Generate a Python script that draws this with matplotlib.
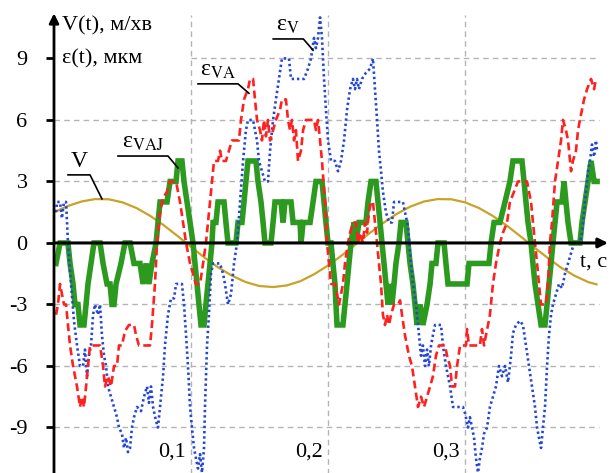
import numpy as np
import matplotlib
matplotlib.use("Agg")
import matplotlib.pyplot as plt

plt.rcParams['font.family'] = ['Liberation Serif', 'DejaVu Serif']
plt.rcParams['mathtext.fontset'] = 'stix'

# speed V(t), m/min
v_t = [0.00, 0.01, 0.02, 0.03, 0.04, 0.05, 0.06, 0.07, 0.08, 0.09, 0.10,
       0.11, 0.12, 0.13, 0.14, 0.15, 0.16, 0.17, 0.18, 0.19, 0.20, 0.21,
       0.22, 0.23, 0.24, 0.25, 0.26, 0.27, 0.28, 0.29, 0.30, 0.31, 0.32,
       0.33, 0.34, 0.35, 0.36, 0.37, 0.38, 0.39, 0.396]
v_val = [1.50, 1.80, 2.02, 2.14, 2.13, 1.98, 1.71, 1.33, 0.87, 0.35, -0.19,
         -0.72, -1.20, -1.60, -1.91, -2.10, -2.15, -2.07, -1.86, -1.52, -1.10, -0.61,
         -0.08, 0.46, 0.96, 1.41, 1.77, 2.02, 2.14, 2.13, 1.98, 1.71, 1.33,
         0.87, 0.35, -0.19, -0.71, -1.20, -1.60, -1.91, -2.02]

# error eps_VAJ(t), um
eps_vaj = [
    (0.0015, -1), (0.0044, 0), (0.0102, 0), (0.0117, -1), (0.0139, -2), (0.0153, -3),
    (0.0175, -3), (0.0190, -4), (0.0219, -4), (0.0234, -3), (0.0248, -2), (0.0270, -1),
    (0.0292, 0), (0.0336, 0), (0.0358, -1), (0.0387, -2), (0.0409, -2), (0.0423, -3),
    (0.0438, -3), (0.0453, -2), (0.0489, -1), (0.0518, 0), (0.0555, 0), (0.0584, -1),
    (0.0628, -1), (0.0650, -2), (0.0672, -1), (0.0693, -2), (0.0715, -1), (0.0745, 0),
    (0.0759, 1), (0.0774, 2), (0.0825, 2), (0.0847, 3), (0.0891, 3), (0.0905, 4),
    (0.0934, 4), (0.0949, 3), (0.0971, 2), (0.0993, 1), (0.1015, 0), (0.1029, -1),
    (0.1044, -2), (0.1058, -3), (0.1073, -4), (0.1095, -4), (0.1109, -3), (0.1124, -2),
    (0.1139, -1), (0.1153, 0), (0.1161, 1), (0.1182, 1), (0.1197, 2), (0.1241, 2),
    (0.1255, 1), (0.1270, 0), (0.1328, 0), (0.1343, 1), (0.1372, 1), (0.1387, 2),
    (0.1401, 3), (0.1416, 4), (0.1474, 4), (0.1489, 3), (0.1511, 2), (0.1526, 1),
    (0.1540, 0), (0.1584, 0), (0.1599, 1), (0.1613, 2), (0.1657, 2), (0.1672, 1),
    (0.1686, 2), (0.1730, 2), (0.1745, 1), (0.1796, 1), (0.1803, 0), (0.1818, 1),
    (0.1869, 1), (0.1891, 2), (0.1912, 3), (0.1956, 3), (0.1971, 2), (0.1985, 1),
    (0.2000, 0), (0.2022, 0), (0.2036, -1), (0.2051, -2), (0.2058, -3), (0.2066, -4),
    (0.2109, -4), (0.2124, -3), (0.2139, -2), (0.2153, -1), (0.2168, 0), (0.2190, 1),
    (0.2204, 0), (0.2226, 1), (0.2277, 1), (0.2292, 2), (0.2314, 3), (0.2350, 3),
    (0.2365, 2), (0.2380, 1), (0.2394, 0), (0.2409, -1), (0.2423, -2), (0.2438, -3),
    (0.2453, -2), (0.2467, -3), (0.2482, -2), (0.2496, -1), (0.2518, 0), (0.2533, 1),
    (0.2569, 1), (0.2584, 0), (0.2599, -1), (0.2620, -2), (0.2635, -3), (0.2650, -4),
    (0.2672, -3), (0.2693, -4), (0.2723, -3), (0.2745, -2), (0.2759, -1), (0.2788, -1),
    (0.2803, 0), (0.2847, 0), (0.2861, -1), (0.2876, -2), (0.3015, -2), (0.3029, -1),
    (0.3175, -1), (0.3190, 0), (0.3212, 1), (0.3255, 1), (0.3292, 2), (0.3328, 3),
    (0.3350, 4), (0.3416, 4), (0.3431, 3), (0.3445, 2), (0.3460, 1), (0.3482, 0),
    (0.3496, -1), (0.3511, -2), (0.3533, -3), (0.3555, -4), (0.3584, -4), (0.3599, -3),
    (0.3613, -2), (0.3628, -1), (0.3642, 0), (0.3657, 1), (0.3672, 2), (0.3708, 2),
    (0.3723, 3), (0.3737, 2), (0.3752, 1), (0.3774, 0), (0.3839, 0), (0.3854, 1),
    (0.3876, 2), (0.3898, 3), (0.3920, 4), (0.3942, 3), (0.3964, 3),
]

# error eps_VA(t), um
eps_va = [
    (0.0015, -3.5), (0.0029, -3), (0.0044, -2), (0.0058, -2.5), (0.0073, -3), (0.0088, -3),
    (0.0102, -4), (0.0117, -5), (0.0139, -6), (0.0168, -7), (0.0190, -8), (0.0204, -7.5),
    (0.0219, -8), (0.0234, -7), (0.0248, -6), (0.0263, -5), (0.0336, -5), (0.0358, -6),
    (0.0372, -7), (0.0394, -6.5), (0.0416, -7), (0.0438, -6), (0.0460, -6), (0.0474, -5),
    (0.0496, -5), (0.0518, -4.3), (0.0547, -4), (0.0584, -4), (0.0599, -4.5), (0.0620, -5),
    (0.0701, -5), (0.0715, -4), (0.0737, -2), (0.0752, 0), (0.0774, 1.5), (0.0796, 2.2),
    (0.0825, 2.5), (0.0847, 3), (0.0891, 3), (0.0905, 2.5), (0.0920, 2), (0.0942, 1),
    (0.0964, 0), (0.0993, -1), (0.1036, -2), (0.1066, -2), (0.1088, -1), (0.1109, 0),
    (0.1124, 1), (0.1153, 3), (0.1168, 4), (0.1197, 4), (0.1212, 4.5), (0.1226, 4),
    (0.1255, 4), (0.1277, 4.5), (0.1299, 5), (0.1350, 5), (0.1365, 6), (0.1387, 7),
    (0.1416, 7.5), (0.1431, 8), (0.1453, 8), (0.1467, 7), (0.1482, 6), (0.1504, 5.5),
    (0.1518, 5), (0.1533, 6), (0.1547, 5.2), (0.1562, 6), (0.1577, 5), (0.1599, 5.5),
    (0.1620, 6), (0.1650, 6.5), (0.1664, 7), (0.1693, 7), (0.1708, 6), (0.1723, 5.5),
    (0.1737, 6), (0.1752, 5), (0.1766, 5.5), (0.1781, 4), (0.1803, 4.5), (0.1818, 5.5),
    (0.1839, 6), (0.1898, 6), (0.1912, 5.5), (0.1927, 6), (0.1942, 5), (0.1956, 4),
    (0.1978, 2), (0.1993, 0), (0.2007, -1), (0.2022, -2), (0.2051, -2), (0.2066, -2.5),
    (0.2080, -3), (0.2095, -2.5), (0.2109, -2), (0.2124, -1), (0.2146, 0), (0.2161, 0.5),
    (0.2182, 1), (0.2204, 1), (0.2219, 0), (0.2234, 0.5), (0.2255, 0), (0.2270, 1),
    (0.2285, 0.5), (0.2299, 1.5), (0.2314, 2), (0.2328, 2), (0.2343, 1), (0.2358, 0),
    (0.2372, -1), (0.2387, -2), (0.2401, -3.5), (0.2416, -4), (0.2431, -3.5), (0.2445, -4),
    (0.2460, -3.5), (0.2482, -3), (0.2511, -3), (0.2526, -2.8), (0.2540, -3.5), (0.2562, -4.5),
    (0.2591, -5.5), (0.2613, -6), (0.2635, -7), (0.2657, -8), (0.2679, -7.5), (0.2701, -8),
    (0.2723, -7.5), (0.2745, -7), (0.2766, -6.5), (0.2788, -5.5), (0.2810, -5), (0.2854, -5),
    (0.2869, -5.5), (0.2891, -6), (0.2905, -7), (0.2927, -7), (0.2942, -6), (0.2964, -5),
    (0.3007, -5), (0.3015, -4.2), (0.3029, -5), (0.3109, -5), (0.3124, -4.2), (0.3139, -5),
    (0.3153, -4.5), (0.3168, -4), (0.3182, -3.5), (0.3204, -2), (0.3226, -1), (0.3255, 0),
    (0.3277, 0.5), (0.3307, 1), (0.3328, 2), (0.3358, 2.5), (0.3387, 3), (0.3453, 3),
    (0.3467, 2.5), (0.3482, 2), (0.3496, 1), (0.3511, 0), (0.3526, -1), (0.3540, -2),
    (0.3555, -3), (0.3591, -3), (0.3606, -2), (0.3620, 0), (0.3635, 1), (0.3657, 3),
    (0.3679, 4), (0.3701, 5), (0.3715, 6), (0.3737, 5.5), (0.3752, 5), (0.3774, 3.5),
    (0.3788, 4), (0.3810, 4.5), (0.3825, 5.5), (0.3839, 6), (0.3869, 7), (0.3891, 7.5),
    (0.3920, 8), (0.3942, 7.5), (0.3956, 8),
]

# error eps_V(t), um
eps_v = [
    (0.0015, 1.5), (0.0022, 2), (0.0044, 2), (0.0058, 1.2), (0.0073, 2), (0.0088, 2),
    (0.0102, 0), (0.0124, -2), (0.0146, -3.8), (0.0168, -5), (0.0190, -6), (0.0212, -6),
    (0.0226, -5.2), (0.0241, -6.5), (0.0255, -5.5), (0.0270, -5), (0.0285, -3.5), (0.0299, -3),
    (0.0321, -3.5), (0.0336, -3), (0.0350, -4.5), (0.0365, -5.5), (0.0380, -6), (0.0394, -7),
    (0.0416, -7.5), (0.0438, -8), (0.0460, -8.5), (0.0474, -9), (0.0496, -9.3), (0.0511, -10),
    (0.0526, -9.5), (0.0540, -10.2), (0.0555, -10), (0.0569, -9), (0.0584, -8.5), (0.0606, -8),
    (0.0635, -8.2), (0.0657, -7.5), (0.0679, -7), (0.0693, -7.8), (0.0708, -7), (0.0723, -8),
    (0.0745, -8.7), (0.0759, -9), (0.0774, -8), (0.0796, -6.5), (0.0810, -5), (0.0832, -3.5),
    (0.0854, -2.7), (0.0876, -2.7), (0.0891, -2), (0.0934, -2), (0.0949, -3), (0.0964, -4.5),
    (0.0978, -6), (0.0993, -8), (0.1007, -9), (0.1022, -10), (0.1036, -10.5), (0.1051, -11),
    (0.1066, -10.3), (0.1080, -11.2), (0.1095, -10), (0.1102, -8), (0.1117, -5),
    (0.1131, -3.5), (0.1146, -1.5), (0.1161, -1), (0.1212, -1), (0.1234, -1.5), (0.1248, -2),
    (0.1270, -3), (0.1292, -2.5), (0.1314, -1), (0.1336, 0), (0.1358, 2), (0.1380, 4),
    (0.1401, 5.5), (0.1416, 6), (0.1453, 6), (0.1467, 5.5), (0.1482, 5), (0.1496, 4),
    (0.1518, 3.5), (0.1540, 3), (0.1562, 3), (0.1577, 4.5), (0.1599, 6), (0.1620, 7),
    (0.1642, 8), (0.1664, 9), (0.1715, 9), (0.1730, 8), (0.1788, 8), (0.1825, 8),
    (0.1854, 8.5), (0.1876, 9), (0.1898, 10), (0.1912, 9.5), (0.1927, 10), (0.1942, 11),
    (0.1956, 10), (0.1971, 8), (0.1985, 6.5), (0.2000, 5), (0.2022, 4), (0.2051, 4),
    (0.2073, 3.5), (0.2095, 4), (0.2117, 5), (0.2139, 6.5), (0.2161, 7.5), (0.2182, 8),
    (0.2197, 7.5), (0.2212, 8), (0.2226, 7.5), (0.2248, 8), (0.2277, 8.3), (0.2307, 8.5),
    (0.2328, 9), (0.2343, 7.5), (0.2358, 6), (0.2372, 4.5), (0.2387, 3.5), (0.2401, 2.5),
    (0.2423, 1.5), (0.2445, 1), (0.2467, 1), (0.2482, 2), (0.2526, 2), (0.2547, 2),
    (0.2562, 1.5), (0.2584, 0.8), (0.2599, -0.5), (0.2620, -2), (0.2642, -3), (0.2664, -4.5),
    (0.2679, -5.5), (0.2693, -5), (0.2708, -6), (0.2723, -5.2), (0.2737, -6), (0.2752, -5),
    (0.2766, -4.5), (0.2781, -4), (0.2825, -4), (0.2839, -5), (0.2861, -6), (0.2891, -7),
    (0.2912, -8), (0.2985, -8), (0.3000, -8.3), (0.3022, -9), (0.3036, -8.5), (0.3051, -9),
    (0.3066, -9.5), (0.3080, -10.5), (0.3095, -11.2), (0.3109, -10.5), (0.3124, -10),
    (0.3139, -9.3), (0.3161, -9), (0.3182, -8), (0.3204, -7.5), (0.3226, -7), (0.3248, -6),
    (0.3270, -6.5), (0.3292, -6), (0.3314, -6.8), (0.3336, -5.5), (0.3350, -4.4),
    (0.3372, -4), (0.3401, -3.8), (0.3423, -4), (0.3445, -5), (0.3467, -6), (0.3489, -7),
    (0.3511, -8), (0.3526, -9), (0.3540, -9.5), (0.3555, -10), (0.3569, -9), (0.3584, -8),
    (0.3599, -6), (0.3613, -4.5), (0.3628, -3.5), (0.3642, -3), (0.3664, -2.5), (0.3686, -2),
    (0.3708, -2.2), (0.3730, -1.5), (0.3752, -1), (0.3774, -0.5), (0.3796, 0), (0.3839, 0),
    (0.3854, 0.5), (0.3869, 1.5), (0.3883, 2.5), (0.3898, 3.5), (0.3912, 4), (0.3927, 4.8),
    (0.3942, 4.2), (0.3956, 5), (0.3964, 4.5),
]

y_ticks = [-9, -6, -3, 0, 3, 6, 9]
y_tick_labels = ['-9', '-6', '-3', '0', '3', '6', '9']
x_ticks = [0.1, 0.2, 0.3]
x_tick_labels = ['0,1', '0,2', '0,3']

fig = plt.figure(figsize=(6.12, 4.73), dpi=100)
ax = fig.add_axes([54 / 612, 0, 558 / 612, 1])
ax.set_xlim(0, 0.4073)
ax.set_ylim(-11.22, 11.85)
for s in ax.spines.values():
    s.set_visible(False)

# grid
grid_kw = dict(color='#b4b4b4', lw=1.0, linestyle=(0, (4, 3)), zorder=1)
for y in y_ticks:
    if y == 0:
        continue
    ax.plot([0.1 if y == 9 else 0, 0.398], [y, y], **grid_kw)
for x in x_ticks:
    ax.plot([x, x], [-11.3, 11.1], **grid_kw)

# series
ax.plot(v_t, v_val, color='#C9A227', lw=1.6, zorder=3)
t, e = zip(*eps_vaj)
ax.plot(t, e, color='#2C9A1E', lw=4.0, solid_joinstyle='miter', zorder=4)
t, e = zip(*eps_v)
ax.plot(t, e, color='#2346D8', lw=1.9, linestyle=(0, (0.9, 1.1)), zorder=5)
t, e = zip(*eps_va)
ax.plot(t, e, color='#FF2020', lw=1.9, linestyle=(0, (3.0, 1.6)), zorder=6)

# axes with arrows
ax.annotate('', xy=(0, 11.2), xytext=(0, -11.3), annotation_clip=False,
            arrowprops=dict(arrowstyle='-|>', color='black', lw=2,
                            mutation_scale=14, shrinkA=0, shrinkB=0), zorder=7)
ax.annotate('', xy=(0.4044, 0), xytext=(0, 0), annotation_clip=False,
            arrowprops=dict(arrowstyle='-|>', color='black', lw=2.2,
                            mutation_scale=14, shrinkA=0, shrinkB=0), zorder=7)

ax.set_xticks([])
ax.set_yticks(y_ticks)
ax.set_yticklabels(y_tick_labels, fontsize=16)
ax.tick_params(axis='y', direction='out', length=6, width=2, pad=13)

for x, lab in zip(x_ticks, x_tick_labels):
    ax.text(x - 0.004, -10.2, lab, fontsize=16, ha='right', va='center')

ax.text(0.0058, 10.6, 'V(t), м/хв', fontsize=16, ha='left', va='center')
ax.text(0.0058, 9.0, 'ε(t), мкм', fontsize=16, ha='left', va='center')
ax.text(0.384, -0.95, 't, c', fontsize=16, ha='left', va='center')

# series labels with leader lines
labels = [
    ('V', [(0.0102, 3.32), (0.0263, 3.32), (0.035, 2.15)]),
    (r'ε$_{\mathrm{VAJ}}$', [(0.0467, 4.24), (0.0832, 4.24), (0.0905, 3.66)]),
    (r'ε$_{\mathrm{VA}}$', [(0.1051, 7.76), (0.1343, 7.76), (0.1423, 7.3)]),
    (r'ε$_{\mathrm{V}}$', [(0.160, 9.95), (0.182, 9.95), (0.1891, 9.4)]),
]
for text, pts in labels:
    xs, ys = zip(*pts)
    ax.plot(xs, ys, color='black', lw=1.2, zorder=8)
    ax.text((xs[0] + xs[1]) / 2, ys[0] + 0.15, text, fontsize=17,
            ha='center', va='bottom', zorder=8)

fig.savefig('out.png', dpi=100)
